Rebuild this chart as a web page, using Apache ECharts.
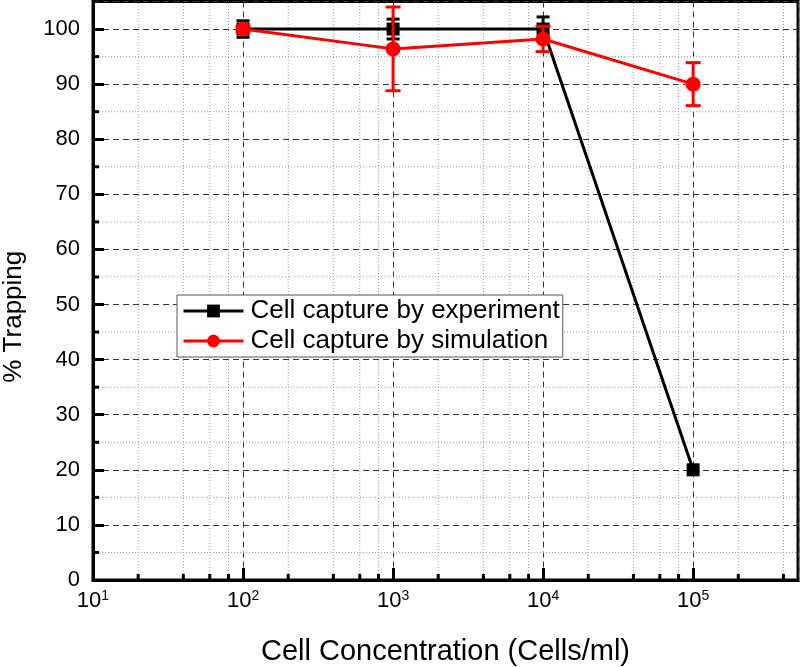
<!DOCTYPE html>
<html><head><meta charset="utf-8">
<script src="https://cdn.jsdelivr.net/npm/echarts@6/dist/echarts.min.js"></script>
<style>html,body{margin:0;padding:0;background:#fff}#c{width:800px;height:667px}</style>
</head><body><div id="c"></div>
<script>
// ---- data ----
const concentrations = [100, 1000, 10000, 100000];
const experimentValues = [100, 100, 100, 20];
const experimentErrors = [1.5, 1.8, 2.2, 0];
const simulationValues = [100, 96.4, 98.2, 90];
const simulationErrors = [0.5, 7.6, 2.3, 3.9];
const xMinorTicks = [20, 40, 60, 80, 200, 400, 600, 800, 2000, 4000, 6000, 8000,
                     20000, 40000, 60000, 80000, 200000, 400000];
const yMinorTicks = [5, 15, 25, 35, 45, 55, 65, 75, 85, 95];
const xRange = [10, 500000];
const yRange = [0, 105];
const seriesNames = ['Cell capture by experiment', 'Cell capture by simulation'];

const FONT = 'Liberation Sans, Arial, sans-serif';
const zip = (xs, ys, es) => xs.map((x, i) => es ? [x, ys[i], es[i]] : [x, ys[i]]);

function errRender(color, capW, lw) {
  return function (params, api) {
    const x = api.value(0), y = api.value(1), e = api.value(2);
    if (!e) return null;
    const t = api.coord([x, y + e]);
    const b = api.coord([x, y - e]);
    const st = { stroke: color, lineWidth: lw };
    return { type: 'group', children: [
      { type: 'line', shape: { x1: t[0], y1: t[1], x2: b[0], y2: b[1] }, style: st },
      { type: 'line', shape: { x1: t[0] - capW / 2, y1: t[1], x2: t[0] + capW / 2, y2: t[1] }, style: st },
      { type: 'line', shape: { x1: b[0] - capW / 2, y1: b[1], x2: b[0] + capW / 2, y2: b[1] }, style: st }
    ]};
  };
}

const chart = echarts.init(document.getElementById('c'), null, { renderer: 'canvas' });
chart.setOption({
  animation: false,
  backgroundColor: '#fff',
  grid: { left: 93, right: 2, top: 1.5, bottom: 87, outerBoundsMode: 'none', containLabel: false,
          show: true, borderColor: '#000', borderWidth: 3, backgroundColor: 'transparent' },
  legend: {
    orient: 'vertical', left: 177, top: 295,
    data: seriesNames,
    itemWidth: 60, itemHeight: 16, itemGap: 4,
    backgroundColor: '#fff', borderColor: '#555', borderWidth: 1,
    padding: [3, 3, 3, 5],
    lineStyle: { width: 3 },
    textStyle: { fontFamily: FONT, fontSize: 26, color: '#000', padding: [0, 0, 0, 2] }
  },
  xAxis: {
    type: 'log', logBase: 10, min: xRange[0], max: xRange[1],
    name: 'Cell Concentration (Cells/ml)', nameLocation: 'middle', nameGap: 57,
    nameTextStyle: { fontFamily: FONT, fontSize: 29, color: '#000' },
    axisLine: { show: true, lineStyle: { color: '#000', width: 3 } },
    axisTick: { show: true, inside: true, length: 12, lineStyle: { color: '#000', width: 3 } },
    splitLine: { show: true, lineStyle: { color: '#333', width: 1, type: [6, 4] } },
    axisLabel: {
      showMaxLabel: false, margin: 9, color: '#000',
      fontFamily: FONT, fontSize: 22,
      formatter: v => '10{s|' + Math.round(Math.log10(v)) + '}',
      rich: { s: { fontFamily: FONT, fontSize: 14, verticalAlign: 'top', padding: [0, 0, 9, 0], color: '#000' } }
    }
  },
  yAxis: {
    type: 'value', min: yRange[0], max: yRange[1], interval: 10,
    name: '% Trapping', nameLocation: 'middle', nameGap: 66, nameRotate: 90,
    nameTextStyle: { fontFamily: FONT, fontSize: 26, color: '#000', padding: [0, 52, 0, 0] },
    axisLine: { show: true, lineStyle: { color: '#000', width: 3 } },
    axisTick: { show: true, inside: true, length: 11, lineStyle: { color: '#000', width: 3 } },
    splitLine: { show: true, lineStyle: { color: '#333', width: 1, type: [6, 4] } },
    axisLabel: { showMaxLabel: false, margin: 13, color: '#000', fontFamily: FONT, fontSize: 22 }
  },
  series: [
    {
      type: 'custom', name: 'xminor', silent: true, z: 1, clip: false,
      data: xMinorTicks.map(v => [v]),
      encode: { x: 0 },
      renderItem: function (params, api) {
        const v = api.value(0);
        const b = api.coord([v, yRange[0]]);
        const t = api.coord([v, yRange[1]]);
        return { type: 'group', children: [
          { type: 'line', shape: { x1: b[0], y1: b[1], x2: t[0], y2: t[1] }, style: { stroke: '#999', lineWidth: 1, lineDash: [1, 2] } },
          { type: 'line', shape: { x1: b[0], y1: b[1], x2: b[0], y2: b[1] - 6 }, style: { stroke: '#000', lineWidth: 3 } }
        ]};
      }
    },
    {
      type: 'custom', name: 'yminor', silent: true, z: 1, clip: false,
      data: yMinorTicks.map(v => [xRange[0], v]),
      encode: { x: 0, y: 1 },
      renderItem: function (params, api) {
        const v = api.value(1);
        const l = api.coord([xRange[0], v]);
        const r = api.coord([xRange[1], v]);
        return { type: 'group', children: [
          { type: 'line', shape: { x1: l[0], y1: l[1], x2: r[0], y2: r[1] }, style: { stroke: '#999', lineWidth: 1, lineDash: [1, 2] } },
          { type: 'line', shape: { x1: l[0], y1: l[1], x2: l[0] + 6, y2: l[1] }, style: { stroke: '#000', lineWidth: 3 } }
        ]};
      }
    },
    {
      type: 'custom', name: 'expErr', silent: true, z: 3,
      data: zip(concentrations, experimentValues, experimentErrors),
      encode: { x: 0, y: 1 },
      renderItem: errRender('#000', 13, 3)
    },
    {
      type: 'line', name: seriesNames[0], z: 4,
      data: zip(concentrations, experimentValues),
      symbol: 'rect', symbolSize: 13,
      lineStyle: { color: '#000', width: 3 },
      itemStyle: { color: '#000' }
    },
    {
      type: 'custom', name: 'simErr', silent: true, z: 5,
      data: zip(concentrations, simulationValues, simulationErrors),
      encode: { x: 0, y: 1 },
      renderItem: errRender('#f00', 15, 3)
    },
    {
      type: 'line', name: seriesNames[1], z: 6,
      data: zip(concentrations, simulationValues),
      symbol: 'circle', symbolSize: 15,
      lineStyle: { color: '#f00', width: 3 },
      itemStyle: { color: '#f00' }
    }
  ]
});
</script></body></html>
